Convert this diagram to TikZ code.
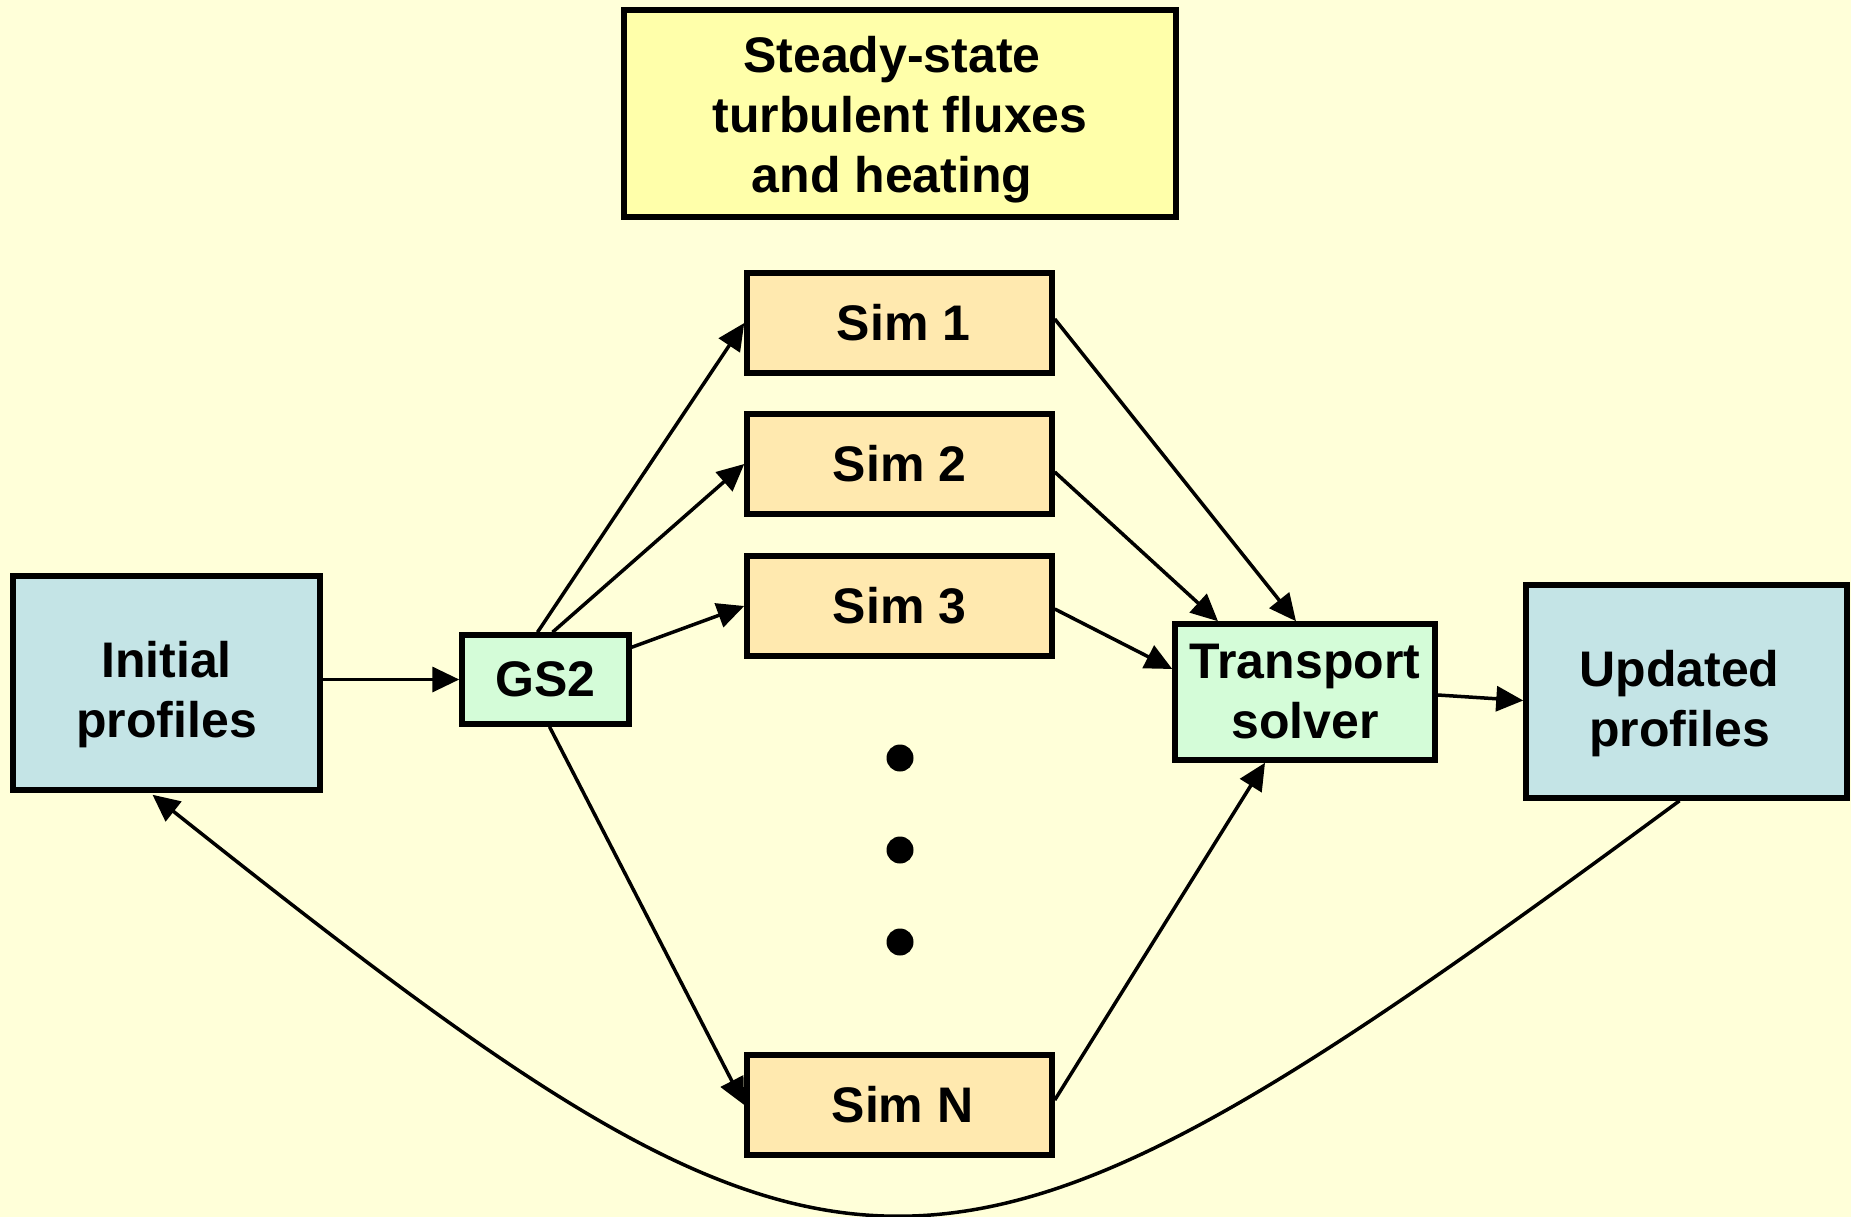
\documentclass[tikz,border=0pt]{standalone}
\usepackage{fontspec}
\setmainfont{Liberation Sans}
\usetikzlibrary{arrows.meta,calc}
\definecolor{bgc}{RGB}{255,255,217}
\definecolor{topc}{RGB}{255,255,170}
\definecolor{simc}{RGB}{255,233,175}
\definecolor{bluec}{RGB}{196,228,230}
\definecolor{greenc}{RGB}{212,252,216}
\begin{document}
\begin{tikzpicture}[x=1pt,y=-1pt,
  box/.style={draw=black,line width=5.5pt,inner sep=0pt,align=center,font=\bfseries\fontsize{50}{60}\selectfont},
  topbox/.style={box,fill=topc,minimum width=552pt,minimum height=207pt,font=\bfseries\fontsize{50}{60}\selectfont},
  simbox/.style={box,fill=simc,minimum width=305pt,minimum height=100pt},
  bluebox/.style={box,fill=bluec},
  greenbox/.style={box,fill=greenc},
  conn/.style={line width=3.5pt,-{Triangle[length=27pt,width=25pt]}},
  dot/.style={circle,fill=black,inner sep=0pt,minimum size=27pt}]
\useasboundingbox (0,0) rectangle (1851,1217);
\fill[bgc] (0,0) rectangle (1851,1217);

\node[topbox] (top) at (900,113.5) {\rule{0pt}{48pt}Steady-state\hspace*{16pt}\\turbulent fluxes\hspace*{16pt}\\and heating\hspace*{16pt}};
\node[simbox] (sim1) at (899.5,323) {\hspace*{8pt}Sim 1};
\node[simbox] (sim2) at (899.5,464) {Sim 2};
\node[simbox] (sim3) at (899.5,606) {Sim 3};
\node[simbox] (simn) at (899.5,1105) {\hspace*{6pt}Sim N};
\node[dot] (d1) at (900,758) {};
\node[dot] (d2) at (900,850) {};
\node[dot] (d3) at (900,942) {};

\node[bluebox,minimum width=307pt,minimum height=214pt] (init) at (166.5,683) {\rule{0pt}{60pt}Initial\\profiles};
\node[greenbox,minimum width=167pt,minimum height=89pt] (gs) at (545.5,679.5) {GS2};
\node[greenbox,minimum width=260pt,minimum height=136pt] (ts) at (1305,692) {Transport\\solver};
\node[bluebox,minimum width=321pt,minimum height=213pt] (up) at (1686.5,691.5) {\rule{0pt}{60pt}Updated\hspace*{14pt}\\profiles\hspace*{14pt}};

\draw[conn] (init.east |- gs.west) -- (gs.west);
\draw[conn] ($(gs.north)+(-8,0)$) -- (sim1.west);
\draw[conn] ($(gs.north)+(7,0)$) -- (sim2.west);
\draw[conn] ($(gs.north east)+(0,15)$) -- (sim3.west);
\draw[conn] ($(gs.south)+(4,0)$) -- (simn.west);
\draw[conn] ($(sim1.east)+(0,-4)$) -- ($(ts.north)+(-9,0)$);
\draw[conn] ($(sim2.east)+(0,8)$) -- ($(ts.north)+(-87,0)$);
\draw[conn] ($(sim3.east)+(0,3)$) -- ($(ts.west)+(0,-23)$);
\draw[conn] ($(simn.east)+(0,-5)$) -- ($(ts.south)+(-40,0)$);
\draw[conn] ($(ts.east)+(0,3)$) -- ($(up.west)+(0,9)$);
\draw[conn] ($(up.south)+(-7,0)$) .. controls (930,1353) and (855,1353) .. ($(init.south)+(-14,2)$);
\end{tikzpicture}
\end{document}
